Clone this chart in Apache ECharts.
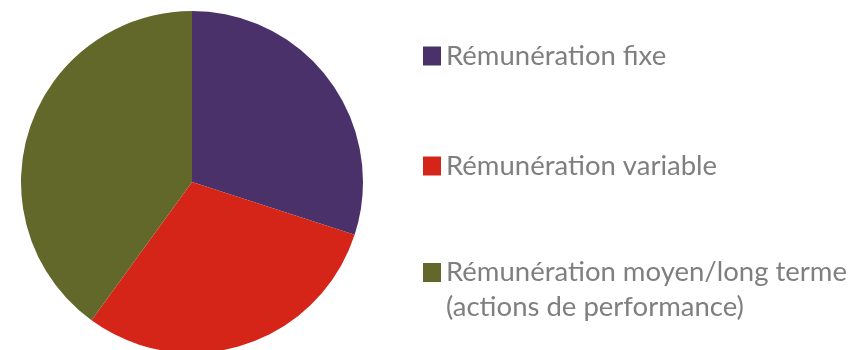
<!DOCTYPE html>
<html>
<head>
<meta charset="utf-8">
<script src="https://cdn.jsdelivr.net/npm/echarts@6/dist/echarts.min.js"></script>
<style>
  html, body { margin: 0; padding: 0; background: #ffffff; }
  #chart { width: 864px; height: 350px; }
</style>
</head>
<body>
<div id="chart"></div>
<script>
// Répartition de la rémunération
const categories = [
  'Rémunération fixe',
  'Rémunération variable',
  'Rémunération moyen/long terme\n(actions de performance)'
];
const shares = [30, 30, 40];
const colors = ['#4b3169', '#d52518', '#62672a'];

const chart = echarts.init(document.getElementById('chart'), null, { renderer: 'canvas' });

const legendFont = {
  fontFamily: 'Lato',
  fontSize: 27.5,
  color: '#7f7f7f'
};

const legendTops = [42, 152, 220];

// One legend per entry so each can sit at its own height; for a two-line
// entry a blank leading line keeps the swatch level with the first line.
const legends = categories.map((name, i) => {
  const multi = name.indexOf('\n') >= 0;
  return {
    data: [name],
    orient: 'vertical',
    left: 423,
    top: legendTops[i],
    padding: 0,
    icon: 'rect',
    itemWidth: 18,
    itemHeight: 19,
    selectedMode: false,
    formatter: multi ? (n => ' \n' + n) : undefined,
    textStyle: Object.assign({}, legendFont, { lineHeight: multi ? 35 : 19 })
  };
});

chart.setOption({
  animation: false,
  color: colors,
  legend: legends,
  series: [{
    type: 'pie',
    center: [192, 182],
    radius: 171,
    startAngle: 90,
    clockwise: true,
    silent: true,
    label: { show: false },
    labelLine: { show: false },
    itemStyle: { borderWidth: 0 },
    data: categories.map((name, i) => ({ name: name, value: shares[i] }))
  }]
});
</script>
</body>
</html>
